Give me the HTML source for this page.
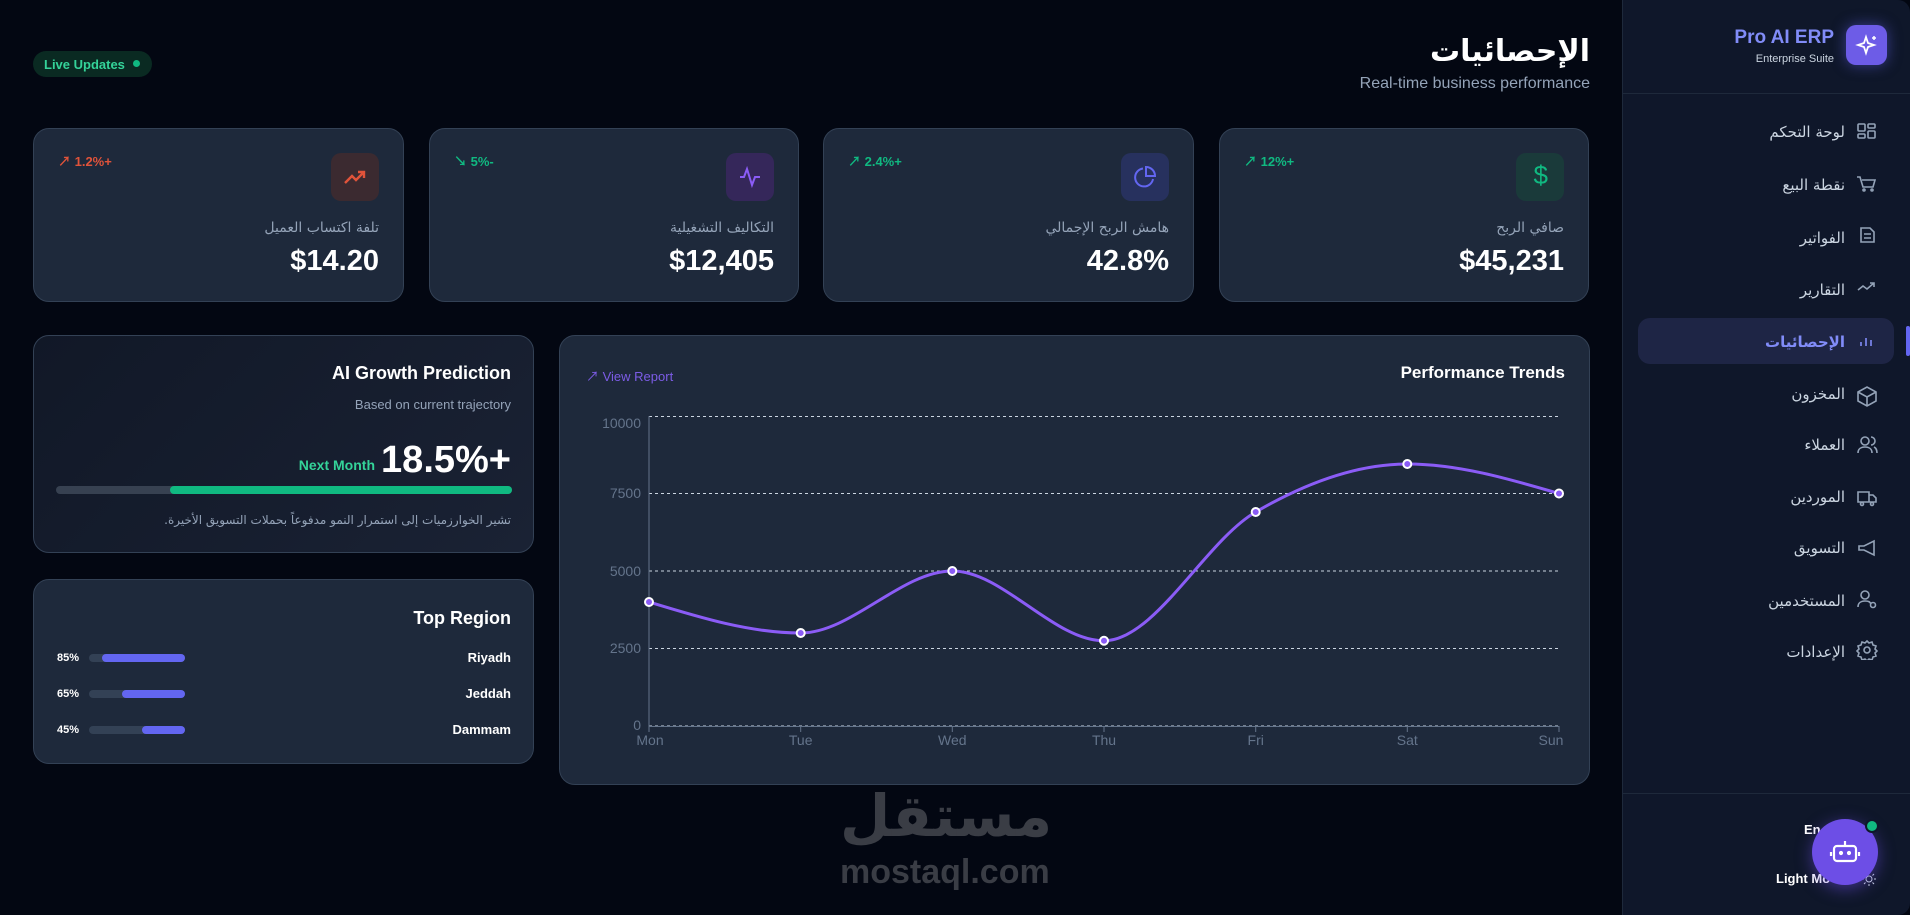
<!DOCTYPE html>
<html><head><meta charset="utf-8"><style>
*{box-sizing:border-box;margin:0;padding:0}
body{width:1910px;height:915px;background:#030712;font-family:"Liberation Sans","Noto Sans CJK SC",sans-serif;position:relative;overflow:hidden;color:#fff}
.a{position:absolute}
.card{position:absolute;background:#1e293b;border:1px solid #334155;border-radius:16px}
.ar{font-family:"DejaVu Sans","Liberation Sans",sans-serif}
.kl{position:absolute;right:24px;top:91px;font-size:14px;color:#94a3b8;direction:rtl}
.kv{position:absolute;right:24px;top:116px;font-size:29px;font-weight:bold;color:#fff}
.ib{position:absolute;right:24px;top:24px;width:48px;height:48px;border-radius:10px}
.kp{position:absolute;left:24px;top:22px;font-size:13px;font-weight:bold}
.mi{position:absolute;right:65px;font-size:15px;color:#cbd5e1;direction:rtl}
</style></head><body>
<!-- sidebar -->
<div class="a" style="left:1622px;top:0;width:288px;height:915px;background:#0f172a;border-left:1px solid #1e293b;border-radius:0 12px 12px 0"></div>
<div class="a" style="left:1622px;top:93px;width:288px;height:1px;background:#1e293b"></div>
<div class="a" style="left:1622px;top:793px;width:288px;height:1px;background:#1e293b"></div>
<div class="a" style="left:1846px;top:25px;width:41px;height:40px;border-radius:10px;background:#6d5ce7;box-shadow:0 0 14px rgba(99,102,241,.5)"></div>
<svg class="a" style="left:1855px;top:34px" width="24" height="22" viewBox="0 0 24 22"><path d="M11 3 L13 9 L19 11 L13 13 L11 19 L9 13 L3 11 L9 9Z" fill="none" stroke="#fff" stroke-width="1.8"/><path d="M19 2v4M17 4h4" stroke="#fff" stroke-width="1.5"/></svg>
<div class="a" style="right:76px;top:27px;font-size:19px;font-weight:bold;color:#818cf8">Pro AI ERP</div>
<div class="a" style="right:76px;top:53px;font-size:11px;color:#cbd5e1">Enterprise Suite</div>
<div class="a" style="left:1638px;top:318px;width:256px;height:46px;border-radius:12px;background:#1e2545"></div>
<div class="a" style="left:1906px;top:326px;width:4px;height:30px;background:#6366f1;border-radius:2px"></div>
<div class="mi ar" style="top:123px">لوحة التحكم</div>
<div class="mi ar" style="top:176px">نقطة البيع</div>
<div class="mi ar" style="top:229px">الفواتير</div>
<div class="mi ar" style="top:281px">التقارير</div>
<div class="mi ar" style="top:333px;color:#818cf8;font-weight:bold">الإحصائيات</div>
<div class="mi ar" style="top:385px">المخزون</div>
<div class="mi ar" style="top:436px">العملاء</div>
<div class="mi ar" style="top:488px">الموردين</div>
<div class="mi ar" style="top:539px">التسويق</div>
<div class="mi ar" style="top:592px">المستخدمين</div>
<div class="mi ar" style="top:643px">الإعدادات</div>
<svg class="a" style="left:1856px;top:120px" width="22" height="540" viewBox="0 0 22 540" fill="none" stroke="#94a3b8" stroke-width="1.6">
<rect x="2" y="4" width="7" height="7" rx="1"/><rect x="12" y="4" width="7" height="4" rx="1"/><rect x="2" y="14" width="7" height="4" rx="1"/><rect x="12" y="11" width="7" height="7" rx="1"/>
<path d="M1 57h3l3 10h10l2-7H6"/><circle cx="8" cy="70" r="1"/><circle cx="16" cy="70" r="1"/>
<path d="M5 108h9l4 4v10H5z M8 114h7M8 118h7"/>
<path d="M2 170l5-4 4 3 7-6M14 163h4v4"/>
<path d="M5 226v-4M10 226v-8M15 226v-6" stroke="#818cf8"/>
<path d="M2 272l9-5 9 5v9l-9 5-9-5z M2 272l9 5 9-5M11 277v9"/>
<circle cx="9" cy="321" r="4"/><path d="M2 333c0-4 3-6 7-6s7 2 7 6M15 317a4 4 0 010 8M18 327c2 1 3 3 3 6"/>
<path d="M2 372h11v10H2zM13 375h4l3 3v4h-7"/><circle cx="6" cy="384" r="1.5"/><circle cx="16" cy="384" r="1.5"/>
<path d="M3 426h5l10-5v14l-10-5H3z"/>
<circle cx="9" cy="475" r="4"/><path d="M2 487c0-4 3-6 7-6s5 1 6 3"/><circle cx="17" cy="485" r="2.5"/>
<circle cx="11" cy="530" r="3"/><path d="M11 521l2 2 3-1 1 3 3 1-1 3 2 2-2 2 1 3-3 1-1 3-3-1-2 2-2-2-3 1-1-3-3-1 1-3-2-2 2-2-1-3 3-1 1-3 3 1z"/>
</svg>
<div class="a" style="left:1804px;top:822px;font-size:13px;font-weight:bold">En</div>
<div class="a" style="left:1776px;top:871px;font-size:13px;font-weight:bold">Light Mo</div>
<svg class="a" style="left:1862px;top:872px" width="14" height="14"><circle cx="7" cy="7" r="3" fill="none" stroke="#cbd5e1"/><path d="M7 0v2M7 12v2M0 7h2M12 7h2M2 2l1.5 1.5M10.5 10.5L12 12M2 12l1.5-1.5M10.5 3.5L12 2" stroke="#cbd5e1"/></svg>
<div class="a" style="left:1812px;top:819px;width:66px;height:66px;border-radius:50%;background:#6d4ee6;box-shadow:0 4px 16px rgba(109,78,230,.5)"></div>
<svg class="a" style="left:1829px;top:836px" width="32" height="32" viewBox="0 0 32 32" fill="none" stroke="#fff" stroke-width="2.2"><rect x="5" y="10" width="22" height="15" rx="3"/><path d="M16 10V5M2 16v4M30 16v4"/><circle cx="12" cy="17" r="1" fill="#fff"/><circle cx="20" cy="17" r="1" fill="#fff"/></svg>
<div class="a" style="left:1865px;top:819px;width:14px;height:14px;border-radius:50%;background:#10b981;border:2px solid #0f172a"></div>

<!-- header -->
<div class="a" style="left:33px;top:51px;width:119px;height:26px;border-radius:13px;background:#0a2a22"></div>
<div class="a" style="left:44px;top:57px;font-size:13px;font-weight:bold;color:#34d399">Live Updates</div>
<div class="a" style="left:133px;top:60px;width:7px;height:7px;border-radius:50%;background:#10b981"></div>
<div class="a ar" style="right:320px;top:34px;font-size:30px;font-weight:bold;direction:rtl">الإحصائيات</div>
<div class="a" style="right:320px;top:75px;font-size:16px;color:#94a3b8">Real-time business performance</div>

<!-- KPI cards -->
<div class="card" style="left:33px;top:128px;width:371px;height:174px">
<div class="ib" style="background:#3b2a30"></div>
<svg class="a" style="right:36px;top:36px" width="24" height="24" fill="none" stroke="#e0533a" stroke-width="2.4"><path d="M2 18l7-7 4 4 8-8M15 7h6v6"/></svg>
<div class="kp" style="color:#e0533a">↗ 1.2%+</div>
<div class="kl ar">تلفة اكتساب العميل</div><div class="kv">$14.20</div></div>
<div class="card" style="left:429px;top:128px;width:370px;height:174px">
<div class="ib" style="background:#35275a"></div>
<svg class="a" style="right:36px;top:36px" width="24" height="24" fill="none" stroke="#8b5cf6" stroke-width="2"><path d="M2 12h4l3-8 5 16 3-8h5"/></svg>
<div class="kp" style="color:#10b981">↘ 5%-</div>
<div class="kl ar">التكاليف التشغيلية</div><div class="kv">$12,405</div></div>
<div class="card" style="left:823px;top:128px;width:371px;height:174px">
<div class="ib" style="background:#27315e"></div>
<svg class="a" style="right:36px;top:36px" width="24" height="24" fill="none" stroke="#6366f1" stroke-width="2"><path d="M20 14A9 9 0 1110 3.5"/><path d="M13 2a9 9 0 019 9h-9z"/></svg>
<div class="kp" style="color:#10b981">↗ 2.4%+</div>
<div class="kl ar">هامش الربح الإجمالي</div><div class="kv">42.8%</div></div>
<div class="card" style="left:1219px;top:128px;width:370px;height:174px">
<div class="ib" style="background:#1a3a3a"></div>
<div class="a" style="right:40px;top:31px;font-size:26px;color:#10b981">$</div>
<div class="kp" style="color:#10b981">↗ 12%+</div>
<div class="kl ar">صافي الربح</div><div class="kv">$45,231</div></div>

<!-- AI card -->
<div class="card" style="left:33px;top:335px;width:501px;height:218px;background:linear-gradient(135deg,#111827,#1a2234)">
<div class="a" style="right:22px;top:27px;font-size:18px;font-weight:bold">AI Growth Prediction</div>
<div class="a" style="right:22px;top:61px;font-size:13px;color:#94a3b8">Based on current trajectory</div>
<div class="a" style="right:22px;top:103px;font-size:38px;font-weight:bold">18.5%+</div>
<div class="a" style="right:158px;top:121px;font-size:14px;font-weight:bold;color:#34d399">Next Month</div>
<div class="a" style="left:22px;top:150px;width:456px;height:8px;border-radius:4px;background:#374151"></div>
<div class="a" style="left:136px;top:150px;width:342px;height:8px;border-radius:4px;background:#10b981"></div>
<div class="a ar" style="right:22px;top:177px;font-size:12px;color:#94a3b8;direction:rtl">تشير الخوارزميات إلى استمرار النمو مدفوعاً بحملات التسويق الأخيرة.</div>
</div>

<!-- Top region -->
<div class="card" style="left:33px;top:579px;width:501px;height:185px">
<div class="a" style="right:22px;top:28px;font-size:18px;font-weight:bold">Top Region</div>
<div class="a" style="right:22px;top:70px;font-size:13px;font-weight:bold">Riyadh</div>
<div class="a" style="right:22px;top:106px;font-size:13px;font-weight:bold">Jeddah</div>
<div class="a" style="right:22px;top:142px;font-size:13px;font-weight:bold">Dammam</div>
<div class="a" style="left:23px;top:72px;font-size:11px;font-weight:bold">85%</div>
<div class="a" style="left:23px;top:108px;font-size:11px;font-weight:bold">65%</div>
<div class="a" style="left:23px;top:144px;font-size:11px;font-weight:bold">45%</div>
<div class="a" style="left:55px;top:74px;width:96px;height:8px;border-radius:4px;background:#334155"><div style="margin-left:13px;height:8px;border-radius:4px;background:#6366f1"></div></div>
<div class="a" style="left:55px;top:110px;width:96px;height:8px;border-radius:4px;background:#334155"><div style="margin-left:33px;height:8px;border-radius:4px;background:#6366f1"></div></div>
<div class="a" style="left:55px;top:146px;width:96px;height:8px;border-radius:4px;background:#334155"><div style="margin-left:53px;height:8px;border-radius:4px;background:#6366f1"></div></div>
</div>

<!-- chart -->
<div class="card" style="left:559px;top:335px;width:1031px;height:450px"></div>
<div class="a" style="right:345px;top:363px;font-size:17px;font-weight:bold">Performance Trends</div>
<div class="a" style="left:586px;top:366px;font-size:13px;color:#7c5ce6">↗ View Report</div>
<svg class="a" style="left:0;top:0" width="1910" height="915">
<g stroke="#cbd5e1" stroke-dasharray="3 3" stroke-width="1">
<line x1="649" y1="416.5" x2="1559" y2="416.5"/><line x1="649" y1="493.5" x2="1559" y2="493.5"/><line x1="649" y1="571" x2="1559" y2="571"/><line x1="649" y1="648.5" x2="1559" y2="648.5"/><line x1="649" y1="726" x2="1559" y2="726"/></g>
<line x1="649" y1="416" x2="649" y2="726" stroke="#64748b"/>
<line x1="649" y1="726.5" x2="1559" y2="726.5" stroke="#64748b"/>
<g stroke="#64748b"><line x1="649" y1="726" x2="649" y2="732"/><line x1="800.7" y1="726" x2="800.7" y2="732"/><line x1="952.3" y1="726" x2="952.3" y2="732"/><line x1="1104" y1="726" x2="1104" y2="732"/><line x1="1255.7" y1="726" x2="1255.7" y2="732"/><line x1="1407.3" y1="726" x2="1407.3" y2="732"/><line x1="1559" y1="726" x2="1559" y2="732"/></g>
<g fill="#64748b" font-size="14" font-family="Liberation Sans" text-anchor="end">
<text x="641" y="428">10000</text><text x="641" y="498">7500</text><text x="641" y="576">5000</text><text x="641" y="653">2500</text><text x="641" y="730">0</text></g>
<g fill="#64748b" font-size="14" font-family="Liberation Sans" text-anchor="middle">
<text x="650" y="745">Mon</text><text x="800.7" y="745">Tue</text><text x="952.3" y="745">Wed</text><text x="1104" y="745">Thu</text><text x="1255.7" y="745">Fri</text><text x="1407.3" y="745">Sat</text><text x="1551" y="745">Sun</text></g>
<path d="M649 602C699.6 617.5 750.1 633 800.7 633C851.2 633 901.7 571 952.3 571C1002.9 571 1053.4 640.75 1104 640.75C1154.6 640.75 1205.1 541.5 1255.7 512C1306.3 482.5 1356.7 464 1407.3 464C1457.9 464 1508.4 478.7 1559 493.5" fill="none" stroke="#8b5cf6" stroke-width="3"/>
<g fill="#8b5cf6" stroke="#fff" stroke-width="2">
<circle cx="649" cy="602" r="4"/><circle cx="800.7" cy="633" r="4"/><circle cx="952.3" cy="571" r="4"/><circle cx="1104" cy="640.75" r="4"/><circle cx="1255.7" cy="512" r="4"/><circle cx="1407.3" cy="464" r="4"/><circle cx="1559" cy="493.5" r="4"/></g>
</svg>

<!-- watermark -->
<div class="a ar" style="left:840px;top:782px;font-size:58px;font-weight:bold;color:#3a3d45;direction:rtl">مستقل</div>
<div class="a" style="left:840px;top:853px;font-size:34px;font-weight:bold;color:#3a3d45">mostaql.com</div>
</body></html>
